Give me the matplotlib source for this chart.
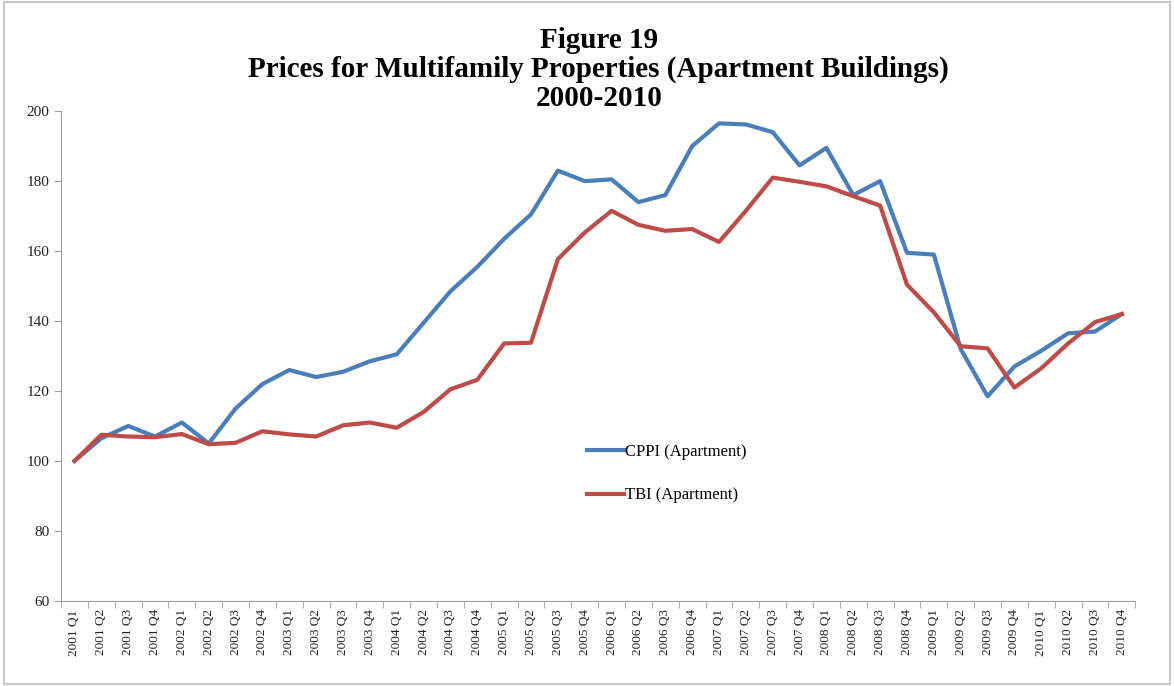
import matplotlib.pyplot as plt
import numpy as np
from matplotlib.patches import Rectangle

quarters = [f"{y} Q{q}" for y in range(2001, 2011) for q in range(1, 5)]

cppi = [100, 106.5, 110, 107, 111, 105, 115, 122, 126, 124,
        125.5, 128.5, 130.5, 139.5, 148.5, 155.5, 163.5, 170.5, 183, 180,
        180.5, 174, 176, 190, 196.5, 196.2, 194, 184.5, 189.5, 176,
        180, 159.5, 159, 132, 118.5, 127, 131.5, 136.5, 137, 142]
tbi = [100, 107.5, 107, 106.8, 107.7, 104.8, 105.2, 108.5, 107.6, 107,
       110.2, 111, 109.5, 114, 120.5, 123.2, 133.6, 133.8, 157.7, 165.3,
       171.5, 167.5, 165.8, 166.3, 162.6, 171.5, 181, 179.8, 178.5, 175.7,
       173, 150.4, 142.5, 132.8, 132.2, 121, 126.5, 133.6, 139.7, 142]

plt.rcParams['font.family'] = ['Liberation Serif', 'DejaVu Serif']

fig = plt.figure(figsize=(11.74, 6.86), dpi=100)
ax = fig.add_axes([0.052, 0.124, 0.915, 0.714])

x = np.arange(len(quarters))
ax.plot(x, cppi, color='#4A7EBB', lw=3, label='CPPI (Apartment)')
ax.plot(x, tbi, color='#BE4B48', lw=3, label='TBI (Apartment)')

ax.set_xlim(-0.5, len(quarters) - 0.5)
ax.set_ylim(60, 200)
ax.set_yticks(range(60, 201, 20))
ax.tick_params(axis='y', labelsize=11, color='#A0A0A0', length=5, labelcolor='#222222')

ax.set_xticks(x)
ax.set_xticklabels(quarters, rotation=90, fontsize=9.5, color='#222222')
ax.tick_params(axis='x', length=0, pad=6)
ax.set_xticks(np.arange(-0.5, len(quarters), 1), minor=True)
ax.tick_params(axis='x', which='minor', length=5, color='#A0A0A0')

for s in ['top', 'right']:
    ax.spines[s].set_visible(False)
for s in ['left', 'bottom']:
    ax.spines[s].set_color('#A0A0A0')

ax.legend(loc='center left', bbox_to_anchor=(0.476, 0.26), frameon=False,
          fontsize=12, labelspacing=1.65, handlelength=2.2, handletextpad=0.05)

fig.text(0.51, 0.96, 'Figure 19\nPrices for Multifamily Properties (Apartment Buildings)\n2000-2010',
         ha='center', va='top', fontsize=21, fontweight='bold', linespacing=1.07)

fig.patches.append(Rectangle((0.003, 0.003), 0.994, 0.994, transform=fig.transFigure,
                             fill=False, edgecolor='#C8C8C8', lw=1.5))

fig.savefig('out.png', dpi=100)
